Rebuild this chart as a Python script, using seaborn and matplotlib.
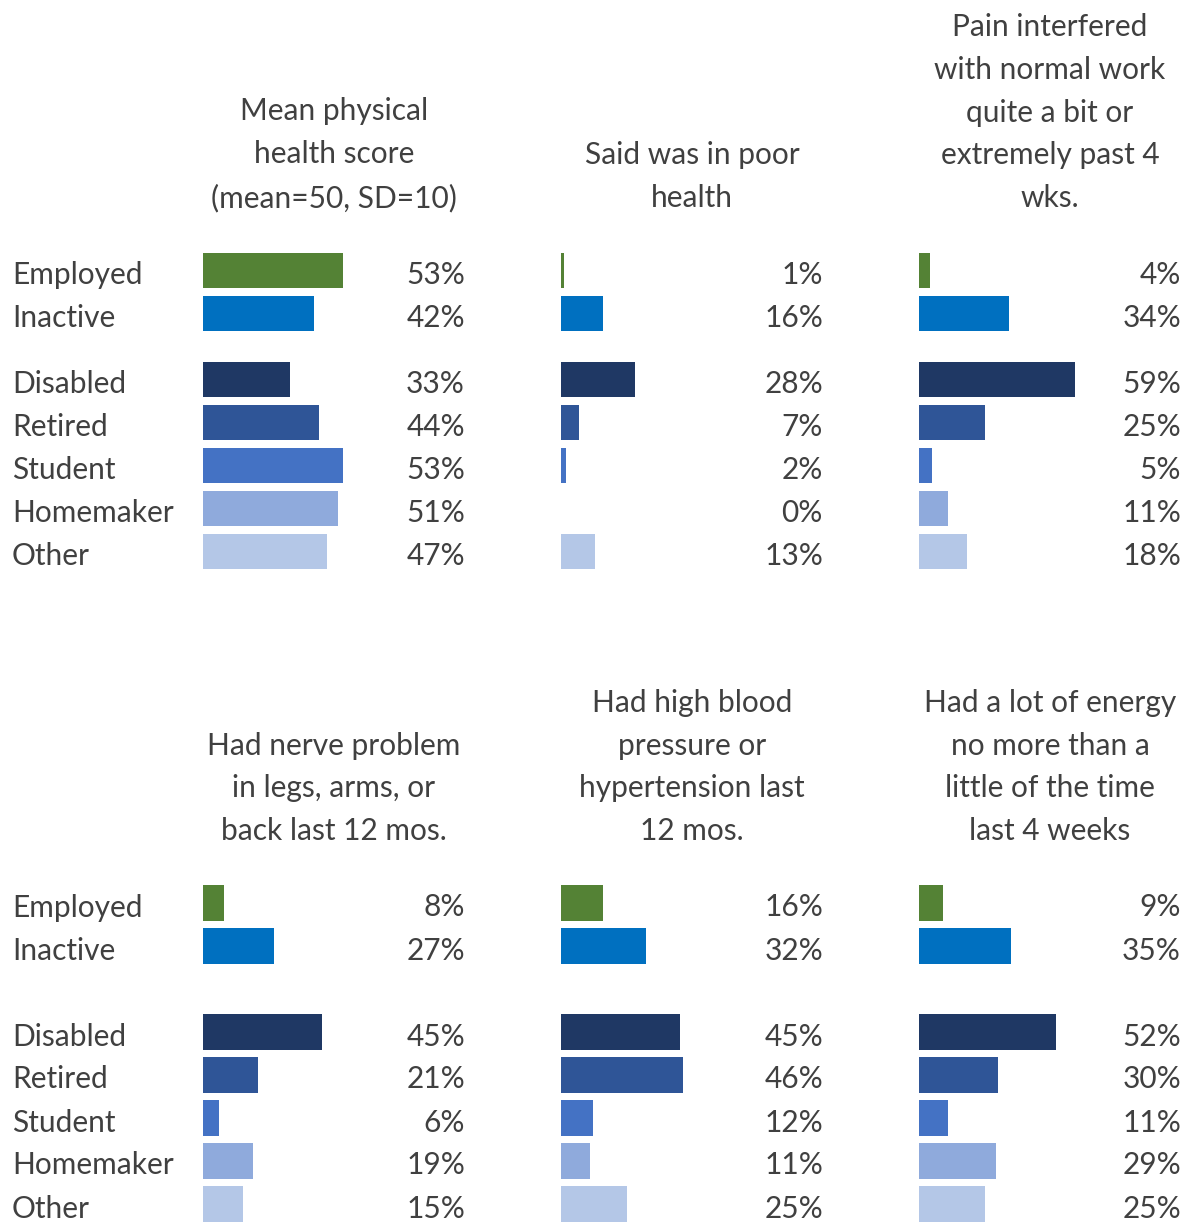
import matplotlib
matplotlib.use("Agg")
import matplotlib.pyplot as plt
import matplotlib.transforms as mtransforms
import numpy as np
import pandas as pd
import seaborn as sns

sns.set_theme(style="white")
plt.rcParams["font.family"] = ["Lato", "DejaVu Sans"]

# ---- data -------------------------------------------------------------
groups = ["Employed", "Inactive", "Disabled", "Retired", "Student", "Homemaker", "Other"]

titles = [
    "Mean physical\nhealth score\n(mean=50, SD=10)",
    "Said was in poor\nhealth",
    "Pain interfered\nwith normal work\nquite a bit or\nextremely past 4\nwks.",
    "Had nerve problem\nin legs, arms, or\nback last 12 mos.",
    "Had high blood\npressure or\nhypertension last\n12 mos.",
    "Had a lot of energy\nno more than a\nlittle of the time\nlast 4 weeks",
]

physical_score = [53, 42, 33, 44, 53, 51, 47]
poor_health = [1, 16, 28, 7, 2, 0, 13]
pain_interfered = [4, 34, 59, 25, 5, 11, 18]
nerve_problem = [8, 27, 45, 21, 6, 19, 15]
high_blood_pressure = [16, 32, 45, 46, 12, 11, 25]
low_energy = [9, 35, 52, 30, 11, 29, 25]

series = [physical_score, poor_health, pain_interfered,
          nerve_problem, high_blood_pressure, low_energy]

palette = {
    "Employed": "#548235",
    "Inactive": "#0070C0",
    "Disabled": "#1F3864",
    "Retired": "#2F5597",
    "Student": "#4472C4",
    "Homemaker": "#8FAADC",
    "Other": "#B4C7E7",
}

# row positions: the two summary groups, a gap, then the five inactive sub-groups
top_pos = [0, 1, 2.535, 3.535, 4.535, 5.535, 6.535]
bottom_pos = [0, 1, 3, 4, 5, 6, 7]

# ---- layout (pixels) --------------------------------------------------
W, H = 1188, 1224
DPI = 100
fig = plt.figure(figsize=(W / DPI, H / DPI), dpi=DPI)
fig.patch.set_facecolor("white")

TEXT = "#404040"
FS = 21.5
col_left = [203, 561, 919]
col_width = 262
px_per_unit = 2.642
xmax = col_width / px_per_unit
row_step = 43
text_drop = -4.5  # labels sit a little below the bar centre

rows = [
    dict(pos=top_pos, first_center=270.5, title_bottom=212),
    dict(pos=bottom_pos, first_center=903.0, title_bottom=845),
]

for r, row in enumerate(rows):
    pos = row["pos"]
    ymin, ymax = -0.5, pos[-1] + 0.5
    top_px = row["first_center"] - 0.5 * row_step
    height_px = (ymax - ymin) * row_step
    for c in range(3):
        idx = r * 3 + c
        ax = fig.add_axes([col_left[c] / W, 1 - (top_px + height_px) / H,
                           col_width / W, height_px / H])
        df = pd.DataFrame({"group": groups, "value": series[idx], "pos": pos})
        sns.barplot(data=df, x="value", y="pos", hue="group", palette=palette,
                    orient="h", native_scale=True, width=0.82, dodge=False,
                    legend=False, ax=ax, saturation=1, linewidth=0)
        ax.set_xlim(0, xmax)
        ax.set_ylim(ymax, ymin)
        ax.axis("off")

        val_trans = mtransforms.offset_copy(ax.transData, fig=fig, y=text_drop,
                                            units="dots")
        for v, y in zip(series[idx], pos):
            ax.text(xmax, y, f"{v}%", ha="right", va="center",
                    fontsize=FS, color=TEXT, transform=val_trans)

        if c == 0:
            trans = mtransforms.blended_transform_factory(fig.transFigure, ax.transData)
            trans = mtransforms.offset_copy(trans, fig=fig, y=text_drop, units="dots")
            for g, y in zip(groups, pos):
                ax.text(12 / W, y, g, ha="left", va="center", fontsize=FS,
                        color=TEXT, transform=trans)

        cx = (col_left[c] + col_width / 2) / W
        fig.text(cx, 1 - row["title_bottom"] / H, titles[idx], ha="center",
                 va="bottom", fontsize=FS, color=TEXT, linespacing=1.64,
                 multialignment="center")

fig.savefig("out.png", dpi=DPI, facecolor="white")
